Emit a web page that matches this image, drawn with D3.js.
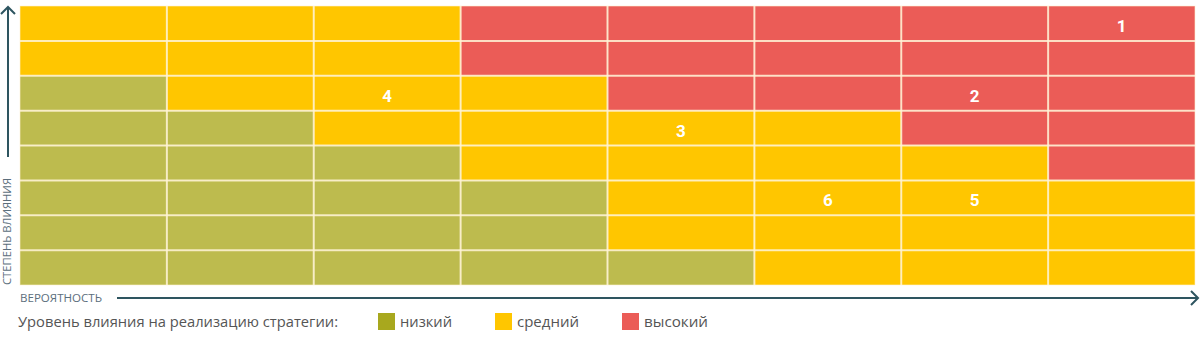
<!DOCTYPE html>
<html><head><meta charset="utf-8">
<script src="https://cdn.jsdelivr.net/npm/d3@7"></script>
<style>body{margin:0;background:#fff;}svg{display:block;}</style>
</head><body>
<svg id="c" width="1200" height="339"></svg>
<script>
// Columns: probability (вероятность), rows: impact (степень влияния), row 0 = top
const columns = [1,2,3,4,5,6,7,8];
const rows = [8,7,6,5,4,3,2,1];
// level per row (top to bottom), per column: L = низкий, M = средний, H = высокий
const levelGrid = [
  "MMMHHHHH",
  "MMMHHHHH",
  "LMMMHHHH",
  "LLMMMMHH",
  "LLLMMMMH",
  "LLLLMMMM",
  "LLLLMMMM",
  "LLLLLMMM"
];
// Risk markers: label, column value, row value
const riskLabels = ["1","2","3","4","5","6"];
const riskCols = [8,7,5,3,7,6];
const riskRows = [8,6,5,6,3,3];
const levelKeys = ["L","M","H"];
const levelNames = ["низкий","средний","высокий"];
const cellColors = ["#BDBB4E","#FFC600","#EB5C57"];
const legendColors = ["#A8A81E","#FFC600","#EB5C57"];
const legendTitle = "Уровень влияния на реализацию стратегии:";
const xAxisTitle = "ВЕРОЯТНОСТЬ";
const yAxisTitle = "СТЕПЕНЬ ВЛИЯНИЯ";

const svg = d3.select("#c");
const x = d3.scaleBand().domain(columns).range([20, 1195]);
const y = d3.scaleBand().domain(rows).range([6, 285]);
const color = d3.scaleOrdinal().domain(levelKeys).range(cellColors);
const legendColor = d3.scaleOrdinal().domain(levelKeys).range(legendColors);

const cells = [];
rows.forEach((r, ri) => columns.forEach((c, ci) => cells.push({r, c, lvl: levelGrid[ri][ci]})));

svg.append("g").selectAll("rect").data(cells).join("rect")
  .attr("x", d => x(d.c)).attr("y", d => y(d.r))
  .attr("width", x.bandwidth()).attr("height", y.bandwidth())
  .attr("fill", d => color(d.lvl));

// grid lines
const g = svg.append("g").attr("stroke", "#FFF3D6").attr("stroke-opacity", 0.85).attr("stroke-width", 2);
columns.slice(1).forEach(c => g.append("line").attr("x1", x(c)).attr("x2", x(c)).attr("y1", 6).attr("y2", 285));
rows.slice(1).forEach(r => g.append("line").attr("x1", 20).attr("x2", 1195).attr("y1", y(r)).attr("y2", y(r)));
// outer border faint
svg.append("rect").attr("x", 20).attr("y", 6).attr("width", 1175).attr("height", 279)
  .attr("fill", "none").attr("stroke", "#FFF3D6").attr("stroke-opacity", 0.6).attr("stroke-width", 1);

// risk labels
svg.append("g").selectAll("text").data(riskLabels).join("text")
  .attr("x", (d,i) => x(riskCols[i]) + x.bandwidth()/2)
  .attr("y", (d,i) => y(riskRows[i]) + y.bandwidth()/2 + 8.5)
  .attr("text-anchor", "middle")
  .attr("font-family", "Roboto, 'Open Sans', sans-serif")
  .attr("font-weight", "bold").attr("font-size", 17).attr("fill", "#fff")
  .text(d => d);

const axisColor = "#2E5560";
// vertical axis arrow
svg.append("line").attr("x1", 8).attr("x2", 8).attr("y1", 7).attr("y2", 157)
  .attr("stroke", axisColor).attr("stroke-width", 2);
svg.append("path").attr("d", "M1,14 L8,7 L15,14").attr("fill", "none")
  .attr("stroke", axisColor).attr("stroke-width", 2);
svg.append("text").attr("transform", "translate(11,285) rotate(-90)")
  .attr("font-family", "'Open Sans', sans-serif").attr("font-size", 10.5)
  .attr("fill", "#5B6E7C").attr("textLength", 107).attr("lengthAdjust", "spacingAndGlyphs")
  .text(yAxisTitle);

// horizontal axis arrow
svg.append("line").attr("x1", 117).attr("x2", 1198).attr("y1", 298).attr("y2", 298)
  .attr("stroke", axisColor).attr("stroke-width", 2);
svg.append("path").attr("d", "M1191,291 L1198,298 L1191,305").attr("fill", "none")
  .attr("stroke", axisColor).attr("stroke-width", 2);
svg.append("text").attr("x", 20).attr("y", 302)
  .attr("font-family", "'Open Sans', sans-serif").attr("font-size", 11)
  .attr("fill", "#5B6E7C").attr("textLength", 82).attr("lengthAdjust", "spacingAndGlyphs")
  .text(xAxisTitle);

// legend
svg.append("text").attr("x", 18).attr("y", 327)
  .attr("font-family", "'Open Sans', sans-serif").attr("font-size", 15)
  .attr("fill", "#555").attr("textLength", 320).attr("lengthAdjust", "spacingAndGlyphs")
  .text(legendTitle);
const legX = [378, 495, 622];
const legW = [52, 62, 64];
const lg = svg.append("g").selectAll("g").data(levelKeys).join("g")
  .attr("transform", (d,i) => `translate(${legX[i]},313)`);
lg.append("rect").attr("width", 17).attr("height", 17).attr("fill", d => legendColor(d));
lg.append("text").attr("x", 22).attr("y", 14)
  .attr("font-family", "'Open Sans', sans-serif").attr("font-size", 15).attr("fill", "#555")
  .attr("textLength", (d,i) => legW[i]).attr("lengthAdjust", "spacingAndGlyphs")
  .text((d,i) => levelNames[i]);
</script>
</body></html>
